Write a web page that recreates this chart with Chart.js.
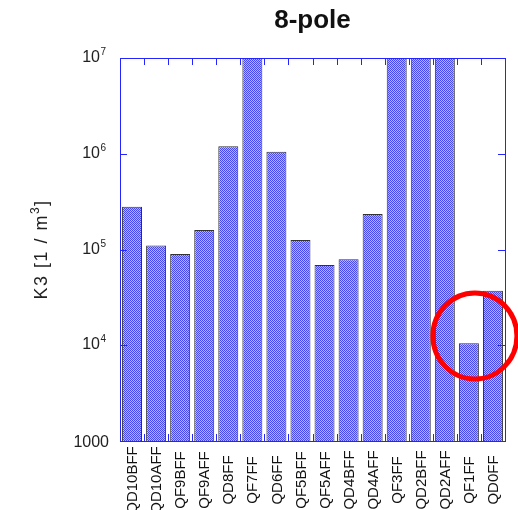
<!DOCTYPE html>
<html>
<head>
<meta charset="utf-8">
<script src="https://cdn.jsdelivr.net/npm/chart.js@4"></script>
<style>
	html, body { margin: 0; padding: 0; background: #fff; }
	#k3Chart { display: block; }
</style>
</head>
<body>
<canvas id="k3Chart" width="518" height="510"></canvas>
<script>
	// Magnets along the line, left to right.
	var categories = ['QD10BFF', 'QD10AFF', 'QF9BFF', 'QF9AFF', 'QD8FF', 'QF7FF', 'QD6FF', 'QF5BFF',
		'QF5AFF', 'QD4BFF', 'QD4AFF', 'QF3FF', 'QD2BFF', 'QD2AFF', 'QF1FF', 'QD0FF'];

	// K3 [1/m^3]. The ones over 1e7 are clipped by the axis.
	var k3Values = [2.8e5, 1.1e5, 9.0e4, 1.6e5, 1.2e6, 2e7, 1.05e6, 1.26e5,
		6.9e4, 7.9e4, 2.35e5, 2e7, 2e7, 2e7, 1.05e4, 3.7e4];

	var yTickValues = [1e3, 1e4, 1e5, 1e6, 1e7];
	// base / exponent, exponent drawn as superscript
	var yTickLabels = [['1000', ''], ['10', '4'], ['10', '5'], ['10', '6'], ['10', '7']];

	var chartTitle = '8-pole';
	// axis title in pieces: text, superscript, text
	var yTitleParts = ['K3 [1 / m', '3', ']'];
	var markedMagnet = 'QF1FF';

	var canvas = document.getElementById('k3Chart');
	var ctx = canvas.getContext('2d');

	function makeHatch() {
		var c = document.createElement('canvas');
		c.width = 2;
		c.height = 2;
		var g = c.getContext('2d');
		g.fillStyle = '#b6b6fc';
		g.fillRect(0, 0, 2, 2);
		g.fillStyle = '#4646ee';
		g.fillRect(0, 0, 1, 1);
		g.fillRect(1, 1, 1, 1);
		return ctx.createPattern(c, 'repeat');
	}

	var FONT = '"Liberation Sans", Arial, sans-serif';
	var FRAME = '#2424ff';

	// frame, inside ticks, labels, titles and the red ring
	var decorations = {
		id: 'decorations',
		afterDraw: function(chart) {
			var c = chart.ctx;
			var a = chart.chartArea;
			var xs = chart.scales.x;
			var ys = chart.scales.y;
			var i, px, py;

			c.save();
			c.strokeStyle = FRAME;
			c.lineWidth = 1;
			c.strokeRect(a.left + 0.5, a.top + 0.5, a.right - a.left, a.bottom - a.top);

			c.beginPath();
			var half = (xs.getPixelForTick(1) - xs.getPixelForTick(0)) / 2;
			for (i = 1; i < categories.length; i++) {
				px = Math.round(xs.getPixelForTick(i) - half) + 0.5;
				c.moveTo(px, a.top);
				c.lineTo(px, a.top + 7);
				c.moveTo(px, a.bottom);
				c.lineTo(px, a.bottom - 7);
			}
			for (i = 0; i < yTickValues.length; i++) {
				py = Math.round(ys.getPixelForValue(yTickValues[i])) + 0.5;
				c.moveTo(a.left, py);
				c.lineTo(a.left + 7, py);
				c.moveTo(a.right, py);
				c.lineTo(a.right - 7, py);
			}
			c.stroke();

			// y tick labels
			c.fillStyle = '#222';
			c.textBaseline = 'alphabetic';
			for (i = 0; i < yTickValues.length; i++) {
				py = ys.getPixelForValue(yTickValues[i]);
				var base = yTickLabels[i][0];
				var exp = yTickLabels[i][1];
				if (!exp) {
					c.font = '16px ' + FONT;
					c.textAlign = 'right';
					c.fillText(base, a.left - 11, py + 6);
				} else {
					c.font = '10px ' + FONT;
					c.textAlign = 'right';
					var ew = c.measureText(exp).width;
					c.fillText(exp, a.left - 14, py - 3);
					c.font = '16px ' + FONT;
					c.fillText(base, a.left - 14 - ew - 0.5, py + 4);
				}
			}

			// category labels, rotated, centred under the axis
			c.font = '15px ' + FONT;
			c.fillStyle = '#111';
			c.textAlign = 'center';
			c.textBaseline = 'middle';
			for (i = 0; i < categories.length; i++) {
				px = xs.getPixelForTick(i);
				c.save();
				c.translate(px + 1, 480);
				c.rotate(-Math.PI / 2);
				c.fillText(categories[i], 0, 0);
				c.restore();
			}

			// axis title, with a real superscript
			c.save();
			c.fillStyle = '#222';
			if ('letterSpacing' in c) c.letterSpacing = '1.5px';
			c.font = '18px ' + FONT;
			var w0 = c.measureText(yTitleParts[0]).width;
			var w2 = c.measureText(yTitleParts[2]).width;
			c.font = '12px ' + FONT;
			var w1 = c.measureText(yTitleParts[1]).width;
			var total = w0 + w1 + w2;
			c.translate(47, (a.top + a.bottom) / 2);
			c.rotate(-Math.PI / 2);
			c.textAlign = 'left';
			c.textBaseline = 'alphabetic';
			var tx = -total / 2;
			c.font = '18px ' + FONT;
			c.fillText(yTitleParts[0], tx, 0);
			c.font = '12px ' + FONT;
			c.fillText(yTitleParts[1], tx + w0, -8);
			c.font = '18px ' + FONT;
			c.fillText(yTitleParts[2], tx + w0 + w1, 0);
			c.restore();

			// title
			c.font = 'bold 26px ' + FONT;
			c.fillStyle = '#111';
			c.textAlign = 'center';
			c.textBaseline = 'alphabetic';
			c.fillText(chartTitle, (a.left + a.right) / 2, 28);

			// red ring around the marked magnet
			var cx = xs.getPixelForValue(categories.indexOf(markedMagnet)) + 6;
			var cy = ys.getPixelForValue(1.25e4);
			c.strokeStyle = '#ff0000';
			c.lineWidth = 5;
			c.beginPath();
			c.ellipse(cx, cy, 42, 43, 0, 0, Math.PI * 2);
			c.stroke();
			c.restore();
		}
	};

	var k3Chart = new Chart(canvas, {
		type: 'bar',
		data: {
			labels: categories,
			datasets: [{
				data: k3Values,
				backgroundColor: makeHatch(),
				borderColor: '#333',
				borderWidth: 1,
				barPercentage: 0.83,
				categoryPercentage: 1
			}]
		},
		options: {
			responsive: false,
			animation: false,
			devicePixelRatio: 1,
			layout: { padding: { top: 58, right: 13, left: 0, bottom: 0 } },
			plugins: {
				legend: { display: false },
				tooltip: { enabled: false },
				title: { display: false }
			},
			scales: {
				x: {
					grid: { display: false },
					border: { display: false },
					ticks: { display: false, autoSkip: false },
					afterFit: function(s) { s.height = 69; }
				},
				y: {
					type: 'logarithmic',
					min: 1000,
					max: 1e7,
					grid: { display: false },
					border: { display: false },
					ticks: { display: false },
					afterBuildTicks: function(s) {
						s.ticks = yTickValues.map(function(v) { return { value: v }; });
					},
					afterFit: function(s) { s.width = 120; }
				}
			}
		},
		plugins: [decorations]
	});
</script>
</body>
</html>
